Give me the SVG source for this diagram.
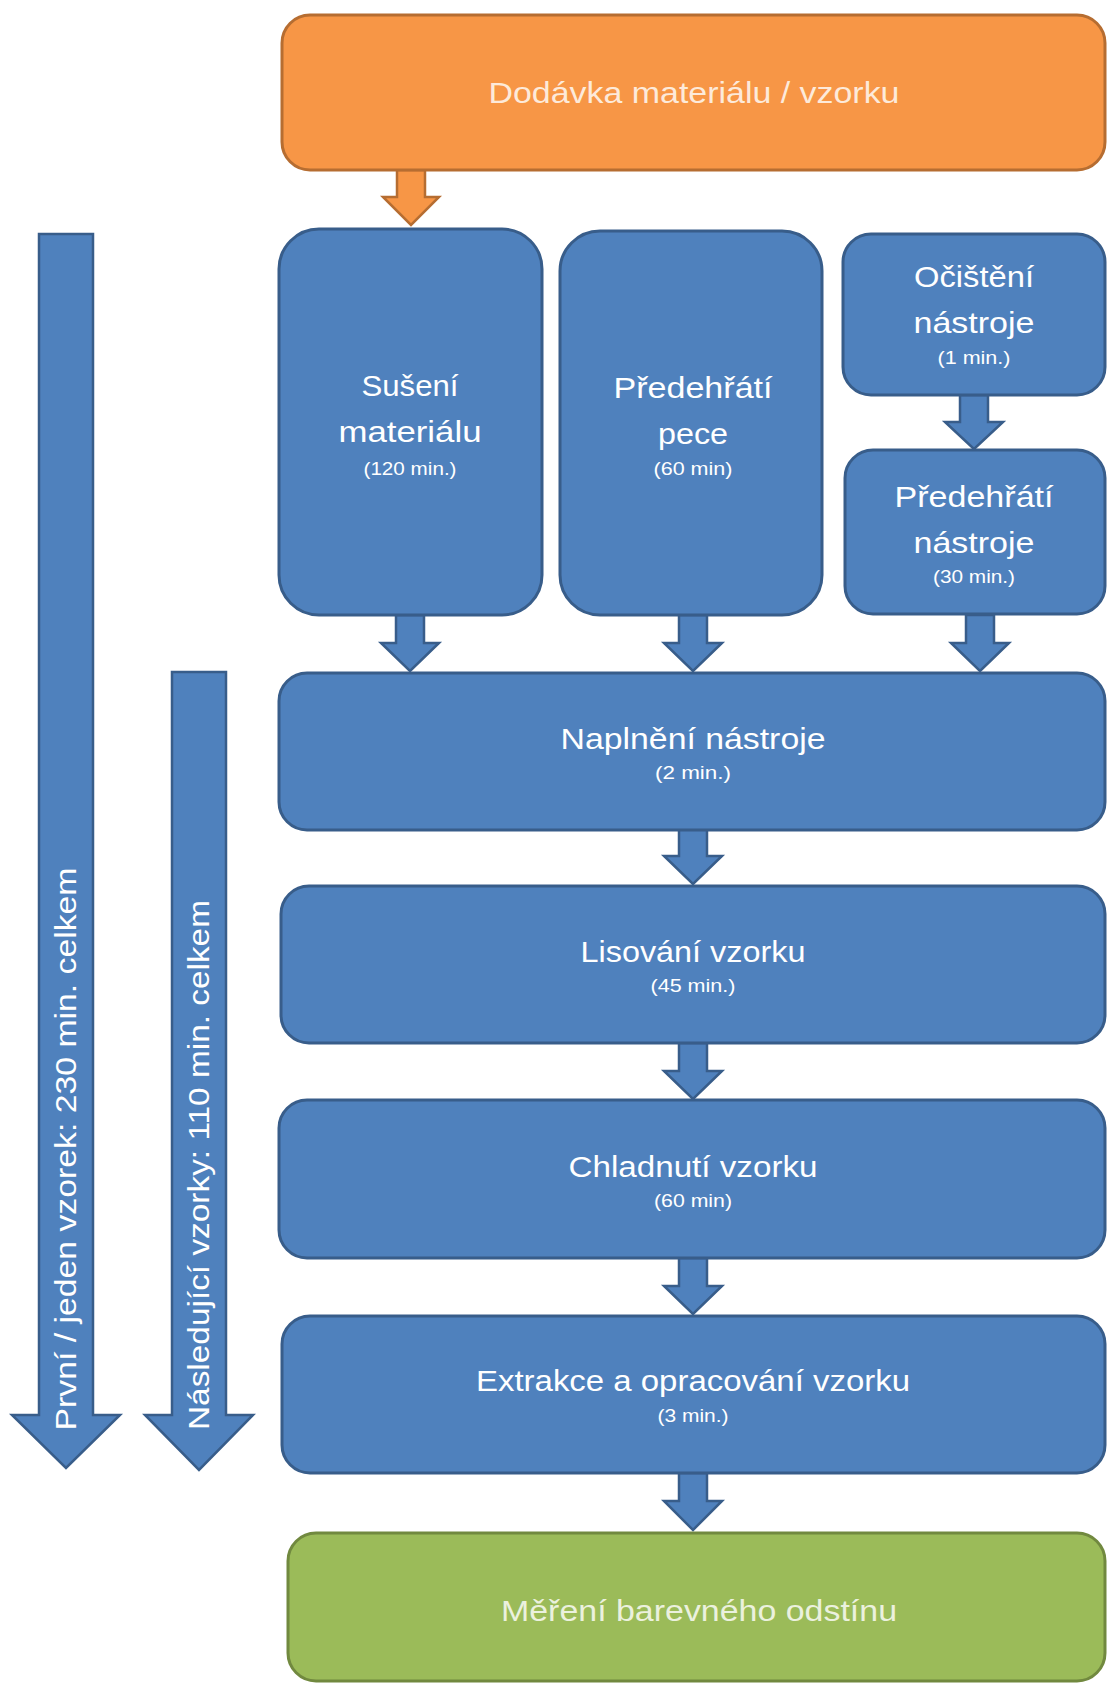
<svg xmlns="http://www.w3.org/2000/svg" width="1107" height="1683" viewBox="0 0 1107 1683">
<style>
.blue{fill:#4F81BD;stroke:#385D8A;stroke-width:3}
.orange{fill:#F79646;stroke:#B66D31;stroke-width:3}
.green{fill:#9BBB59;stroke:#71893F;stroke-width:3}
.arr{fill:#4F81BD;stroke:#385D8A;stroke-width:2.5;stroke-linejoin:miter}
.arro{fill:#F79646;stroke:#B66D31;stroke-width:2.5}
text{font-family:"Liberation Sans",Arial,sans-serif;fill:#FFFFFF;text-anchor:middle}
.big{font-size:30px}
.sm{font-size:18px}
.lt{fill:#FDEADA}
.lg{fill:#EBF1DE}
</style>
<rect width="1107" height="1683" fill="#FFFFFF"/>
<g id="connectors">
<path class="arro" d="M397 170H425V197H439L411 225L383 197H397Z"/>
<path class="arr" d="M396 615H424V643H439L410 671L381 643H396Z"/>
<path class="arr" d="M679 615H707V643H722L693 671L664 643H679Z"/>
<path class="arr" d="M966 615H994V643H1009L980 671L951 643H966Z"/>
<path class="arr" d="M960 395H988V422H1003L974 449L945 422H960Z"/>
<path class="arr" d="M679 829H707V856H722L693 884L664 856H679Z"/>
<path class="arr" d="M679 1043H707V1071H722L693 1099L664 1071H679Z"/>
<path class="arr" d="M679 1258H707V1286H722L693 1314L664 1286H679Z"/>
<path class="arr" d="M679 1473H707V1501H722L693 1530L664 1501H679Z"/>
</g>
<g id="arrow-first">
<path class="arr" d="M39 234H93V1415H120L66 1468L12 1415H39Z"/>
<text class="big" transform="translate(66,1149) rotate(-90)" dy="10" textLength="563" lengthAdjust="spacingAndGlyphs">První / jeden vzorek: 230 min. celkem</text>
</g>
<g id="arrow-next">
<path class="arr" d="M172 672H226V1415H253L199 1470L145 1415H172Z"/>
<text class="big" transform="translate(199,1165) rotate(-90)" dy="10" textLength="530" lengthAdjust="spacingAndGlyphs">Následující vzorky: 110 min. celkem</text>
</g>
<g id="dodavka">
<rect class="orange" x="282" y="15" width="823" height="155" rx="28"/>
<text class="big lt" x="694" y="103" textLength="411" lengthAdjust="spacingAndGlyphs">Dodávka materiálu / vzorku</text>
</g>
<g id="suseni">
<rect class="blue" x="279" y="229" width="263" height="386" rx="40"/>
<text class="big" x="410" y="396" textLength="97" lengthAdjust="spacingAndGlyphs">Sušení</text>
<text class="big" x="410" y="442" textLength="143" lengthAdjust="spacingAndGlyphs">materiálu</text>
<text class="sm" x="410" y="475" textLength="93" lengthAdjust="spacingAndGlyphs">(120 min.)</text>
</g>
<g id="predehrati-pece">
<rect class="blue" x="560" y="231" width="262" height="384" rx="40"/>
<text class="big" x="693" y="398" textLength="159" lengthAdjust="spacingAndGlyphs">Předehřátí</text>
<text class="big" x="693" y="444" textLength="70" lengthAdjust="spacingAndGlyphs">pece</text>
<text class="sm" x="693" y="475" textLength="79" lengthAdjust="spacingAndGlyphs">(60 min)</text>
</g>
<g id="ocisteni">
<rect class="blue" x="843" y="234" width="262" height="161" rx="28"/>
<text class="big" x="974" y="287" textLength="120" lengthAdjust="spacingAndGlyphs">Očištění</text>
<text class="big" x="974" y="333" textLength="121" lengthAdjust="spacingAndGlyphs">nástroje</text>
<text class="sm" x="974" y="364" textLength="73" lengthAdjust="spacingAndGlyphs">(1 min.)</text>
</g>
<g id="predehrati-nastroje">
<rect class="blue" x="845" y="450" width="260" height="164" rx="28"/>
<text class="big" x="974" y="507" textLength="159" lengthAdjust="spacingAndGlyphs">Předehřátí</text>
<text class="big" x="974" y="553" textLength="121" lengthAdjust="spacingAndGlyphs">nástroje</text>
<text class="sm" x="974" y="583" textLength="82" lengthAdjust="spacingAndGlyphs">(30 min.)</text>
</g>
<g id="naplneni">
<rect class="blue" x="279" y="673" width="826" height="157" rx="28"/>
<text class="big" x="693" y="749" textLength="265" lengthAdjust="spacingAndGlyphs">Naplnění nástroje</text>
<text class="sm" x="693" y="779" textLength="76" lengthAdjust="spacingAndGlyphs">(2 min.)</text>
</g>
<g id="lisovani">
<rect class="blue" x="281" y="886" width="824" height="157" rx="28"/>
<text class="big" x="693" y="962" textLength="225" lengthAdjust="spacingAndGlyphs">Lisování vzorku</text>
<text class="sm" x="693" y="992" textLength="85" lengthAdjust="spacingAndGlyphs">(45 min.)</text>
</g>
<g id="chladnuti">
<rect class="blue" x="279" y="1100" width="826" height="158" rx="28"/>
<text class="big" x="693" y="1177" textLength="249" lengthAdjust="spacingAndGlyphs">Chladnutí vzorku</text>
<text class="sm" x="693" y="1207" textLength="78" lengthAdjust="spacingAndGlyphs">(60 min)</text>
</g>
<g id="extrakce">
<rect class="blue" x="282" y="1316" width="823" height="157" rx="28"/>
<text class="big" x="693" y="1391" textLength="434" lengthAdjust="spacingAndGlyphs">Extrakce a opracování vzorku</text>
<text class="sm" x="693" y="1422" textLength="71" lengthAdjust="spacingAndGlyphs">(3 min.)</text>
</g>
<g id="mereni">
<rect class="green" x="288" y="1533" width="817" height="148" rx="28"/>
<text class="big lg" x="699" y="1621" textLength="396" lengthAdjust="spacingAndGlyphs">Měření barevného odstínu</text>
</g>
</svg>
